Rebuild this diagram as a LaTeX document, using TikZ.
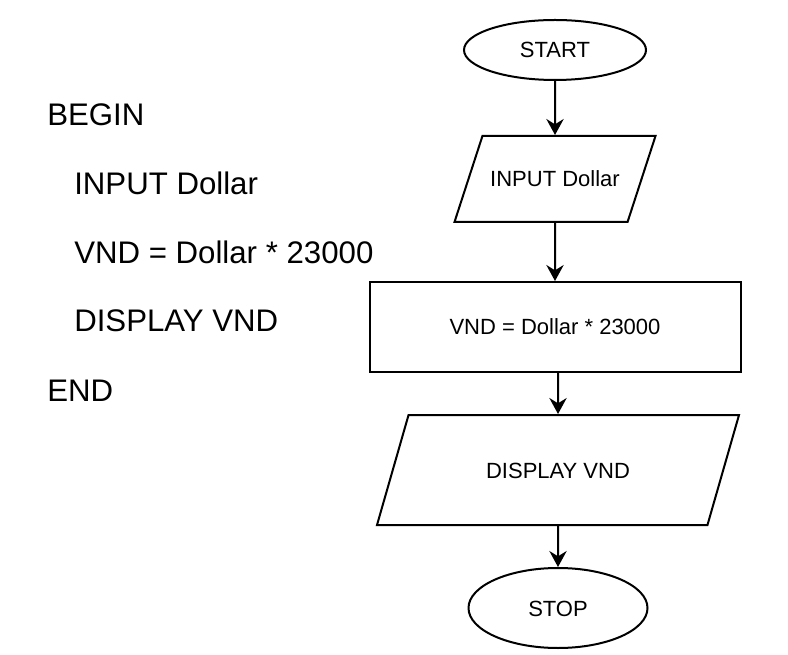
\documentclass[tikz,border=0pt]{standalone}
\usepackage{fontspec}
\setmainfont{Liberation Sans}
\usepackage{tikz}
\usetikzlibrary{arrows.meta}
\usetikzlibrary{shapes.geometric}

\begin{document}
\begin{tikzpicture}[x=0.75pt, y=-0.75pt,
	box/.style={draw, line width=1.5pt, inner sep=0pt, text height=12pt, text depth=0pt,
		font=\fontsize{16.5}{20}\selectfont},
	term/.style={box, ellipse},
	io/.style={box, trapezium, trapezium stretches body},
	proc/.style={box, rectangle},
	code/.style={anchor=base west, inner sep=0pt, font=\fontsize{23.4}{28}\selectfont},
	flow/.style={-{Stealth[length=12pt, width=13pt, inset=4pt]}, line width=1.5pt}]
	\useasboundingbox (0,0) rectangle (788,655);
	%pseudo code
	\foreach \txt/\xx/\yy [count=\i] in {BEGIN/47/126, INPUT Dollar/74/195,
		VND = Dollar * 23000/74/264, DISPLAY VND/74/332, END/47/402}
	\node[code] (line\i) at (\xx,\yy) {\txt};
	%flowchart
	\node[term, minimum width=136.5pt, minimum height=45pt] (start) at (555,50) {START};
	\node[io, trapezium left angle=72, trapezium right angle=108,
		minimum width=150.75pt, inner ysep=26.25pt] (input) at (555,179) {INPUT Dollar};
	\node[proc, minimum width=278.25pt, minimum height=67.5pt] (calc) at (555,327) {VND = Dollar * 23000};
	\node[io, trapezium left angle=74, trapezium right angle=106,
		minimum width=271.5pt, inner ysep=35.25pt] (show) at (558,470) {DISPLAY VND};
	\node[term, minimum width=134.25pt, minimum height=60pt] (stop) at (558,608) {STOP};
	\draw[flow] (start) -- (input);
	\draw[flow] (input) -- (calc);
	\draw[flow] (calc.south -| show) -- (show);
	\draw[flow] (show) -- (stop);
\end{tikzpicture}
\end{document}
